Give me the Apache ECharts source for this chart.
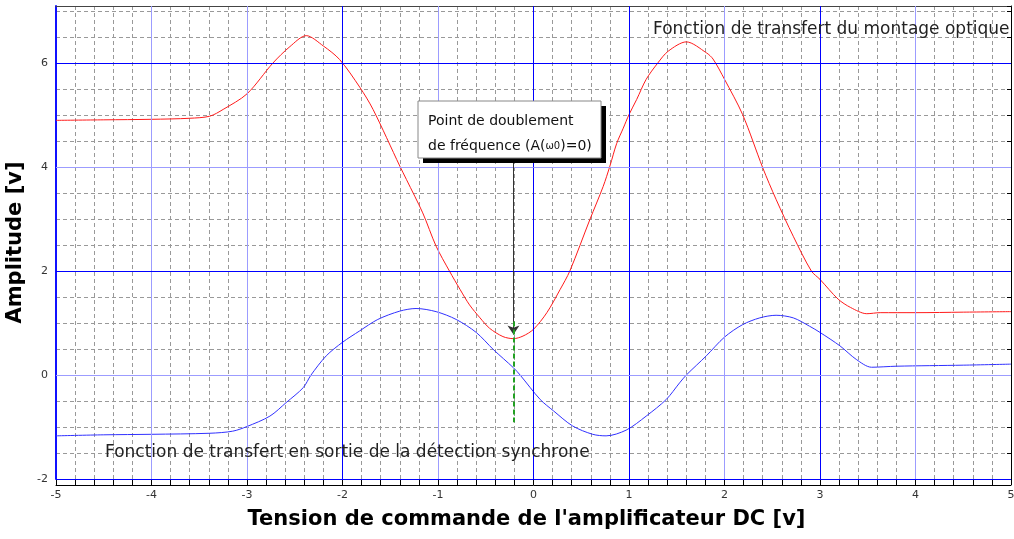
<!DOCTYPE html>
<html>
<head>
<meta charset="utf-8">
<script src="https://cdn.jsdelivr.net/npm/echarts@6/dist/echarts.min.js"></script>
<style>
  html, body { margin: 0; padding: 0; background: #fff; }
  #main { width: 1014px; height: 539px; }
</style>
</head>
<body>
<div id="main"></div>
<script>
// courbe rouge : fonction de transfert du montage optique
var redX = [-5.0, -4.5, -4.0, -3.6, -3.39, -3.25, -3.0, -2.73, -2.55, -2.38, -2.2, -2.03, -1.82, -1.68, -1.4, -1.33, -1.16, -1.02, -0.88, -0.77, -0.67, -0.56, -0.46, -0.32, -0.21, -0.11, 0.0, 0.14, 0.28, 0.38, 0.59, 0.73, 0.8, 0.87, 0.94, 1.0, 1.08, 1.18, 1.3, 1.41, 1.6, 1.81, 1.88, 2.0, 2.19, 2.4, 2.54, 2.72, 2.91, 3.0, 3.19, 3.32, 3.49, 3.63, 4.0, 4.5, 5.0];
var redY = [4.90, 4.91, 4.92, 4.94, 4.98, 5.11, 5.41, 6.0, 6.32, 6.53, 6.33, 6.07, 5.54, 5.11, 4.02, 3.76, 3.12, 2.48, 2.0, 1.65, 1.35, 1.10, 0.90, 0.74, 0.70, 0.75, 0.88, 1.20, 1.65, 2.0, 2.99, 3.63, 4.02, 4.45, 4.75, 5.01, 5.30, 5.69, 6.0, 6.23, 6.41, 6.2, 6.08, 5.69, 5.01, 3.99, 3.38, 2.67, 2.0, 1.84, 1.46, 1.30, 1.18, 1.20, 1.20, 1.21, 1.22];

// courbe bleue : sortie de la detection synchrone
var blueX = [-5.0, -4.5, -4.0, -3.39, -3.15, -3.0, -2.76, -2.59, -2.41, -2.33, -2.17, -2.0, -1.82, -1.63, -1.4, -1.23, -1.02, -0.81, -0.6, -0.42, -0.21, -0.14, 0.07, 0.21, 0.41, 0.62, 0.76, 0.97, 1.18, 1.39, 1.53, 1.6, 1.81, 2.0, 2.19, 2.37, 2.54, 2.72, 2.89, 3.0, 3.21, 3.38, 3.54, 3.8, 4.5, 5.0];
var blueY = [-1.17, -1.15, -1.14, -1.12, -1.08, -0.99, -0.79, -0.53, -0.24, 0.0, 0.37, 0.63, 0.85, 1.07, 1.23, 1.28, 1.22, 1.07, 0.82, 0.49, 0.14, 0.0, -0.47, -0.69, -0.98, -1.14, -1.17, -1.06, -0.79, -0.47, -0.15, 0.0, 0.37, 0.73, 0.97, 1.10, 1.15, 1.10, 0.94, 0.82, 0.56, 0.30, 0.15, 0.17, 0.19, 0.21];

// point de doublement
var doubleX = -0.21;
var arrowY = [4.19, 0.78];
var greenY = [1.03, -0.91];

// grille principale (traits bleus foncés / clairs)
var xStrong = [-2, 0, 1, 3];
var xLight = [-4, -3, -1, 2, 4];
var yStrong = [-2, 2, 6];
var yLight = [0, 4];

function zip(xs, ys) {
    var out = [];
    for (var i = 0; i < xs.length; i++) out.push([xs[i], ys[i]]);
    return out;
}

var strong = '#0000ff', light = '#9c9cff';
var font = 'DejaVu Sans';

function gridLines() {
    var d = [];
    xStrong.forEach(function (v) { d.push({ xAxis: v, lineStyle: { color: strong } }); });
    xLight.forEach(function (v) { d.push({ xAxis: v, lineStyle: { color: light } }); });
    yStrong.forEach(function (v) { d.push({ yAxis: v, lineStyle: { color: strong } }); });
    yLight.forEach(function (v) { d.push({ yAxis: v, lineStyle: { color: light } }); });
    return d;
}

var chart = echarts.init(document.getElementById('main'));
var option = {
    animation: false,
    grid: { left: 56, right: 3, top: 6, bottom: 60, outerBoundsMode: 'none', containLabel: false },
    xAxis: [{
        type: 'value', min: -5, max: 5, interval: 1, offset: 6, z: 0,
        name: "Tension de commande de l'amplificateur DC [v]",
        nameLocation: 'middle', nameGap: 24,
        nameTextStyle: { fontFamily: font, fontWeight: 'bold', fontSize: 21, color: '#000', padding: [0, 14, 0, 0] },
        axisLine: { onZero: false, lineStyle: { color: '#000' } },
        axisTick: { inside: true, length: 6, lineStyle: { color: '#000' } },
        minorTick: { show: true, splitNumber: 5, length: 6, lineStyle: { color: '#000' } },
        axisLabel: { fontFamily: font, fontSize: 11, color: '#333', margin: 5 },
        splitLine: { show: false },
        minorSplitLine: { show: true, lineStyle: { color: '#999', type: [4, 3] } }
    }, {
        // bord superieur
        type: 'value', min: -5, max: 5, position: 'top', z: 0,
        axisLine: { onZero: false, lineStyle: { color: '#444' } },
        axisTick: { show: false }, axisLabel: { show: false }, splitLine: { show: false }
    }],
    yAxis: [{
        type: 'value', min: -2, max: 7.1, interval: 2, z: 0,
        name: 'Amplitude [v]', nameLocation: 'middle', nameGap: 17,
        nameTextStyle: { fontFamily: font, fontWeight: 'bold', fontSize: 21, color: '#000' },
        axisLine: { show: true, onZero: false, lineStyle: { color: '#1010ff', width: 2 } },
        axisTick: { show: false },
        axisLabel: { fontFamily: font, fontSize: 11, color: '#333', margin: 8, showMaxLabel: false },
        splitLine: { show: false }
    }, {
        // grille pointillee tous les 0.5 + graduations a droite
        type: 'value', min: -2, max: 7.1, interval: 0.5, position: 'right', z: 0,
        axisLine: { show: true, onZero: false, lineStyle: { color: '#000' } },
        axisTick: { show: true, inside: true, length: 4, lineStyle: { color: '#000' } },
        axisLabel: { show: false },
        splitLine: { lineStyle: { color: '#999', type: [4, 3] } }
    }],
    graphic: [
        { type: 'rect', shape: { x: 423, y: 106, width: 183, height: 57 }, style: { fill: '#000' }, z: 50 },
        { type: 'rect', shape: { x: 418, y: 101, width: 183, height: 57 }, style: { fill: '#fff', stroke: '#888', lineWidth: 1 }, z: 51 },
        { type: 'text', x: 428, y: 109, z: 52, style: {
            text: 'Point de doublement\nde fréquence (A({s|ω0})=0)',
            fontFamily: font, fontSize: 14, lineHeight: 25, fill: '#111',
            rich: { s: { fontFamily: font, fontSize: 10, fill: '#111' } }
        } },
        { type: 'text', x: 653, y: 21, z: 52, style: {
            text: 'Fonction de transfert du montage optique', fontFamily: font, fontSize: 17, fill: '#222' } },
        { type: 'text', x: 105, y: 444, z: 52, style: {
            text: 'Fonction de transfert en sortie de la détection synchrone', fontFamily: font, fontSize: 17, fill: '#222' } }
    ],
    series: [{
        // traits de la grille principale
        type: 'line', data: [], z: 2,
        markLine: {
            silent: true, animation: false, symbol: 'none', label: { show: false },
            lineStyle: { type: 'solid', width: 1 },
            data: gridLines()
        }
    }, {
        type: 'line', data: zip(redX, redY), showSymbol: false, smooth: 0.3,
        lineStyle: { color: '#ff1a1a', width: 1 }, z: 3
    }, {
        type: 'line', data: zip(blueX, blueY), showSymbol: false, smooth: 0.3,
        lineStyle: { color: '#3030ff', width: 1 }, z: 3,
        markLine: {
            silent: true, animation: false, label: { show: false },
            data: [
                [{ coord: [doubleX, arrowY[0]], symbol: 'none', lineStyle: { color: '#333', width: 1, type: 'solid' } },
                 { coord: [doubleX, arrowY[1]], symbol: 'arrow', symbolSize: 9 }],
                [{ coord: [doubleX, greenY[0]], symbol: 'none', lineStyle: { color: '#22a022', width: 2, type: [5, 3] } },
                 { coord: [doubleX, greenY[1]], symbol: 'none' }]
            ]
        }
    }]
};
chart.setOption(option);
</script>
</body>
</html>
